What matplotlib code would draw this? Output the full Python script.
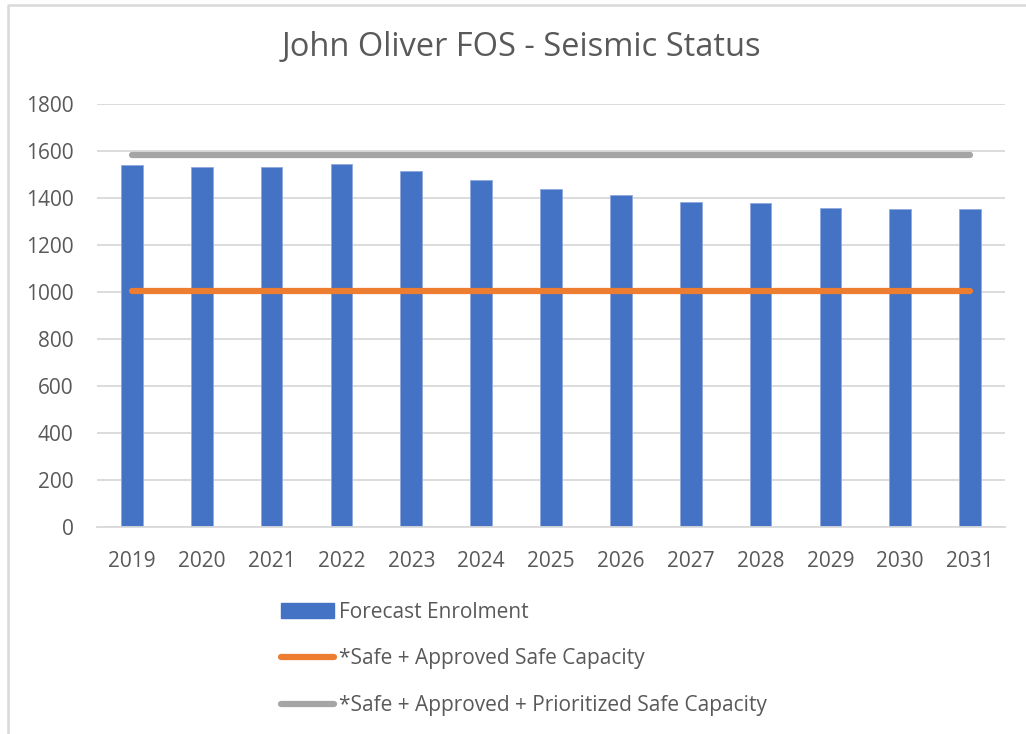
import matplotlib
matplotlib.use("Agg")
import matplotlib.pyplot as plt
from matplotlib.lines import Line2D
from matplotlib.patches import Patch

years = ["2019", "2020", "2021", "2022", "2023", "2024", "2025",
         "2026", "2027", "2028", "2029", "2030", "2031"]
enrolment = [1542, 1533, 1533, 1546, 1515, 1475, 1440, 1413, 1383, 1377, 1359, 1352, 1355]
safe_approved = [1005] * len(years)
safe_prioritized = [1581] * len(years)
yticks = [0, 200, 400, 600, 800, 1000, 1200, 1400, 1600, 1800]

plt.rcParams['font.family'] = ['Open Sans', 'DejaVu Sans']
txt = '#595959'

fig = plt.figure(figsize=(10.26, 7.34), dpi=100)
ax = fig.add_axes([97/1026, 1-527/734, 908/1026, 423/734])

x = list(range(len(years)))
ax.bar(x, enrolment, width=0.31, color='#4472C4', edgecolor='#8FAADC', linewidth=0.6, zorder=2)
ax.plot(x, safe_approved, color='#ED7D31', lw=4.5, solid_capstyle='round', zorder=3)
ax.plot(x, safe_prioritized, color='#A5A5A5', lw=4.5, solid_capstyle='round', zorder=3)

ax.set_xlim(-0.5, len(years) - 0.5)
ax.set_ylim(0, 1800)
ax.set_yticks(yticks)
ax.set_xticks(x)
ax.set_xticklabels(years)
ax.yaxis.grid(True, color='#D9D9D9', lw=1.3, zorder=0)
ax.set_axisbelow(True)
for s in ['top', 'right', 'left']:
    ax.spines[s].set_visible(False)
ax.spines['bottom'].set_color('#D9D9D9')
ax.spines['bottom'].set_linewidth(1.3)
ax.tick_params(axis='both', length=0, labelsize=15, colors=txt)
ax.tick_params(axis='x', pad=17)
ax.tick_params(axis='y', pad=17)

fig.text(521/1026, 1-47/734, "John Oliver FOS - Seismic Status", ha='center', va='center',
         fontsize=23.5, color=txt)

handles = [Patch(facecolor='#4472C4', edgecolor='#4472C4'),
           Line2D([0], [0], color='#ED7D31', lw=4.5, solid_capstyle='round'),
           Line2D([0], [0], color='#A5A5A5', lw=4.5, solid_capstyle='round')]
labels = ["Forecast Enrolment", "*Safe + Approved Safe Capacity",
          "*Safe + Approved + Prioritized Safe Capacity"]
leg = fig.legend(handles, labels, loc='upper left', bbox_to_anchor=(281/1026, 1-602/734),
                 frameon=False, fontsize=15, labelcolor=txt, handlelength=2.55,
                 handletextpad=0.25, labelspacing=1.22, borderaxespad=0, borderpad=0)

# chart border (left and top visible)
fig.add_artist(Line2D([8/1026, 8/1026, 1.0], [0, 1-5/734, 1-5/734],
                      transform=fig.transFigure, color='#D9D9D9', lw=1.8))

fig.savefig('out.png', dpi=100, facecolor='white')
